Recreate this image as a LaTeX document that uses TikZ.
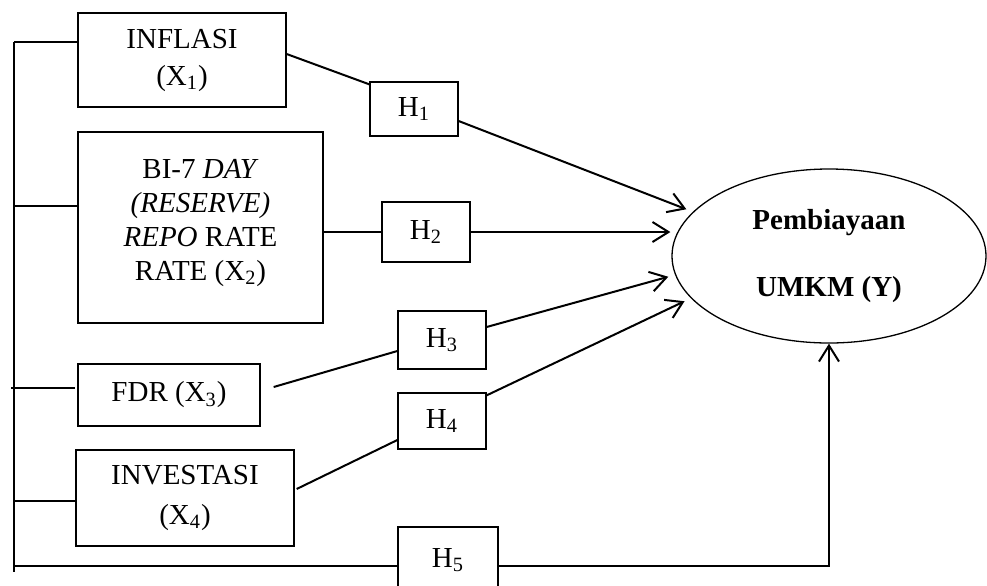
\documentclass[tikz,border=0pt]{standalone}
\usepackage{fontspec}
\setmainfont{Liberation Serif}
\usetikzlibrary{arrows.meta,calc,shapes.geometric}
\tikzset{vbox/.style={draw,line width=.65pt,inner sep=0pt,align=center},
hbox/.style={vbox,minimum width=44pt},
ln/.style={line width=1pt},
arr/.style={ln,-{Straight Barb[length=8pt,width=10pt]},shorten >=3.5pt},
uparr/.style={ln,-{Straight Barb[length=8pt,width=10pt]}}}
\begin{document}
\begin{tikzpicture}[x=.5pt,y=-.5pt,font=\fontsize{14.5}{17}\selectfont]
\useasboundingbox(0,0)rectangle(987,585);
% variables
\node[vbox,minimum width=104pt,minimum height=47pt,font=\fontsize{14.5}{18.5}\selectfont](x1)at(182,60){INFLASI\\(X\textsubscript{1})};
\node[vbox,minimum width=122.5pt,minimum height=95.5pt,text depth=7.5pt](x2)at(200.5,227.5){BI-7 \textit{DAY}\\\textit{(RESERVE)}\\\textit{REPO} RATE\\RATE (X\textsubscript{2})};
\node[vbox,minimum width=91pt,minimum height=31pt](x3)at(169,395){FDR (X\textsubscript{3})};
\node[vbox,minimum width=109pt,minimum height=48pt,font=\fontsize{14.5}{20}\selectfont](x4)at(185,498){INVESTASI\\(X\textsubscript{4})};
\node[ellipse,draw,line width=.65pt,minimum width=157pt,minimum height=87pt,inner sep=0pt,align=center,font=\bfseries\fontsize{14.5}{33.5}\selectfont](y)at(829,256){Pembiayaan\\UMKM (Y)};
% hypotheses
\node[hbox,minimum height=27pt](h1)at(414,109){H\textsubscript{1}};
\node[hbox,minimum height=30pt](h2)at(426,232){H\textsubscript{2}};
\node[hbox,minimum height=29pt](h3)at(442,340){H\textsubscript{3}};
\node[hbox,minimum height=28pt](h4)at(442,421){H\textsubscript{4}};
\node[vbox,minimum width=50pt,minimum height=33pt](h5)at(448,560){H\textsubscript{5}};
% left bus
\coordinate(b1)at(14,42);\coordinate(b2)at(14,206);\coordinate(b3)at(11,388);\coordinate(b4)at(14,501);\coordinate(b5)at(14,566);\coordinate(b0)at(14,572);
\draw[ln](b1)--(b0);
\draw[ln](b1)--(b1-|x1.west) (b2)--(b2-|x2.west) (b3)--($(b3-|x3.west)+(-2,0)$) (b4)--(b4-|x4.west) (b5)--(b5-|h5.west);
% to the hypotheses
\draw[ln]($(x1.east)+(0,-6)$)--($(h1.north west)+(0,3)$);
\draw[ln](x2.east|-h2)--(h2);
\draw[ln]($(x3.east)+(13,-8)$)--($(h3.west)+(0,11)$);
\draw[ln]($(x4.east)+(2,-9)$)--($(h4.west)+(0,19)$);
% to Y
\draw[arr]($(h1.east)+(0,12)$)--(y.162);
\draw[arr](h2)--(h2-|y.171);
\draw[arr]($(h3.east)+(0,-13)$)--(y.187);
\draw[arr]($(h4.north east)+(0,3)$)--(y.197);
\draw[uparr](b5-|h5.east)--(b5-|y.south)--(y.south);
\end{tikzpicture}
\end{document}
